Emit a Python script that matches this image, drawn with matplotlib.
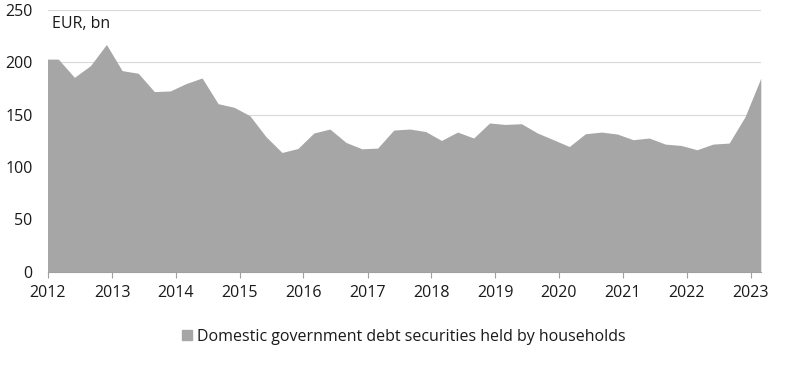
import matplotlib
matplotlib.use("Agg")
import matplotlib.pyplot as plt
import matplotlib.dates as mdates
import pandas as pd
from matplotlib.patches import Patch

# quarterly observations (Feb/May/Aug/Nov), EUR bn
start = "2011-11-30"
values = [203, 203, 185.6, 196.8, 217, 192, 189.5, 172, 172.6, 179.6,
          185, 160.4, 157, 149, 129, 113.8, 117.6, 132.4, 136.2, 123.4,
          117.3, 118, 135.2, 136.2, 133.8, 125.3, 133.3, 127.6, 142, 140.6,
          141.3, 132.4, 126, 119.5, 131.7, 133.3, 131.4, 126, 127.6, 121.8,
          120.5, 116.4, 121.8, 122.8, 148, 184.8]
years = list(range(2012, 2024))
yticks = [0, 50, 100, 150, 200, 250]
label = "Domestic government debt securities held by households"

dates = pd.date_range(start, periods=len(values), freq="3ME")

plt.rcParams['font.family'] = ['Open Sans', 'DejaVu Sans']
fig = plt.figure(figsize=(8, 3.68), dpi=100)
ax = fig.add_axes([0.06, 0.262, 0.891, 0.711])

area_col = '#a6a6a6'
ax.fill_between(dates, 0, values, color=area_col, linewidth=0, zorder=2)

ax.set_ylim(0, 250)
ax.set_yticks(yticks)
ax.set_xlim(pd.Timestamp("2012-01-01"), dates[-1])
ax.set_xticks([pd.Timestamp(f"{y}-01-01") for y in years])
ax.xaxis.set_major_formatter(mdates.DateFormatter("%Y"))

ax.grid(axis='y', color='#d9d9d9', linewidth=0.8, zorder=1)
for s in ['top', 'right', 'left']:
    ax.spines[s].set_visible(False)
ax.spines['bottom'].set_color('#a0a0a0')
ax.spines['bottom'].set_zorder(3)

fs = 11.5
ax.tick_params(axis='y', length=0, pad=11, labelsize=fs, labelcolor='#1a1a1a')
ax.tick_params(axis='x', length=4, width=0.8, color='#a0a0a0', pad=6,
               labelsize=fs, labelcolor='#1a1a1a')

ax.text(0.006, 0.945, "EUR, bn", transform=ax.transAxes, fontsize=fs,
        color='#1a1a1a', va='center', ha='left')

handle = Patch(color=area_col, label=label)
fig.legend(handles=[handle], loc='center', bbox_to_anchor=(0.505, 0.085),
           frameon=False, fontsize=fs, handlelength=0.6, handleheight=0.6,
           handletextpad=0.35, labelcolor='#1a1a1a')

fig.savefig("out.png", dpi=100)
